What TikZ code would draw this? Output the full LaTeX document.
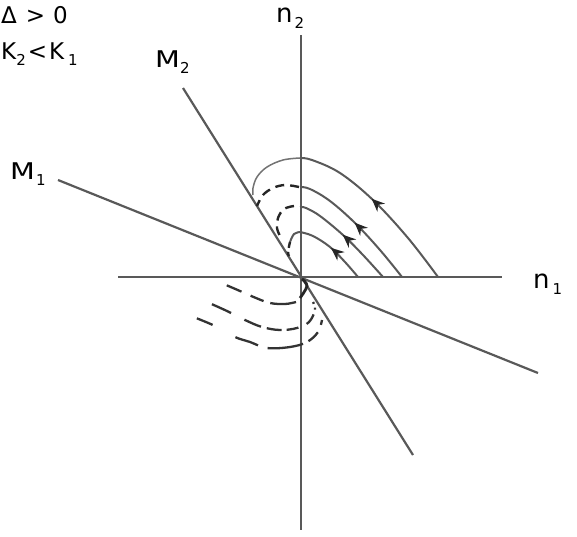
\documentclass[tikz,border=0pt]{standalone}
\usepackage{fontspec}
\setmainfont{DejaVu Sans}
\usetikzlibrary{decorations.markings,arrows.meta}
\newcommand{\bigf}{\fontsize{23}{26}\selectfont}
\newcommand{\subf}[1]{\raisebox{-0.45ex}{\fontsize{15}{17}\selectfont #1}}
\begin{document}
\begin{tikzpicture}[x=1pt,y=-1pt,
  axis/.style={draw=black!65,line width=2.2pt},
  traj/.style={draw=black!65,line width=2pt},
  trajthin/.style={draw=black!55,line width=1.5pt},
  dsh/.style={draw=black!85,line width=2.4pt,dash pattern=on 9pt off 6pt},
  lowdsh/.style={draw=black!80,line width=2.3pt},
  arr/.style={postaction={decorate},decoration={markings,mark=at position #1 with {\arrow[black!85]{Stealth[length=13pt,width=11pt]}}}},
  lbl/.style={inner sep=0pt,anchor=west,font=\bigf}]
\useasboundingbox (0,0) rectangle (577,536);
% axes
\coordinate (O) at (301,277);
\draw[axis] (118,277) -- (502,277);
\draw[axis] (301,35) -- (301,530);
% isoclines
\draw[axis] (58,180) -- (538,373);
\draw[axis] (183,88) -- (413,455);
% labels
\node[lbl] (delta) at (1,15) {Δ\hspace{9pt}>\hspace{8pt}0};
\node[lbl] (kk) at (1,54) {K\subf{2}\hspace{2pt}<\hspace{2pt}K\hspace{4pt}\subf{1}};
\node[lbl] (m2) at (155,62) {\scalebox{1.25}[1]{M}\subf{2}};
\node[lbl] (n2) at (276,18) {\fontsize{26}{29}\selectfont n\hspace{2pt}\subf{2}};
\node[lbl] (m1) at (10,174) {\scalebox{1.25}[1]{M}\hspace{1pt}\subf{1}};
\node[lbl] (n1) at (533,284) {\fontsize{26}{29}\selectfont n\hspace{3pt}\subf{1}};
% upper trajectories, right (solid) parts
\draw[traj,arr=0.55] plot[smooth,tension=0.6] coordinates {(438,277) (408,238) (373,200) (340,173) (312,160) (300,158)};
\draw[traj,arr=0.52] plot[smooth,tension=0.6] coordinates {(402,277) (380,250) (355,223) (330,201) (310,189) (300,187)};
\draw[traj,arr=0.53] plot[smooth,tension=0.6] coordinates {(383,277) (363,255) (343,235) (320,216) (306,208) (300,207)};
\draw[traj,arr=0.53] plot[smooth,tension=0.6] coordinates {(358,277) (345,262) (330,247) (313,236) (300,232)};
% upper trajectories, left parts
\draw[trajthin] plot[smooth,tension=0.6] coordinates {(300,158) (283,160) (267,167) (257,177) (253,188) (253,195)};
\draw[dsh] plot[smooth,tension=0.6] coordinates {(299,187) (285,185) (273,188) (263,195) (257,206)};
\draw[dsh] plot[smooth,tension=0.6] coordinates {(294,206) (284,209) (278,218) (277,228) (280,236)};
\draw[traj] plot[smooth,tension=0.6] coordinates {(300,232) (294,234) (290,242)};
\draw[dsh,dash pattern=on 6pt off 4pt] plot[smooth,tension=0.6] coordinates {(290,242) (288,252) (289,256)};
% lower trajectories
\draw[draw=black!85,line width=2.8pt] plot[smooth,tension=0.6] coordinates {(302,279) (307,286) (300,298)};
\draw[lowdsh,dash pattern=on 26pt off 7pt on 14pt off 10pt on 16pt off 30pt] plot[smooth,tension=0.6] coordinates {(296,302) (285,304) (270,303) (256,298) (240,291) (226,285)};
\draw[lowdsh,dash pattern=on 2pt off 4pt on 2pt off 5pt on 12pt off 9pt on 12pt off 5pt on 15pt off 6pt on 18pt off 15pt on 21pt off 30pt] plot[smooth,tension=0.6] coordinates {(313,302) (315,310) (309,322) (297,328) (280,330) (262,327) (245,320) (227,311) (207,302)};
\draw[lowdsh,dash pattern=on 5pt off 8pt on 13pt off 6pt on 36pt off 10pt on 24pt off 26pt on 17pt off 30pt] plot[smooth,tension=0.6] coordinates {(322,320) (318,332) (307,342) (290,347) (267,348) (250,342) (235,337) (215,326) (196,318)};
\end{tikzpicture}
\end{document}
